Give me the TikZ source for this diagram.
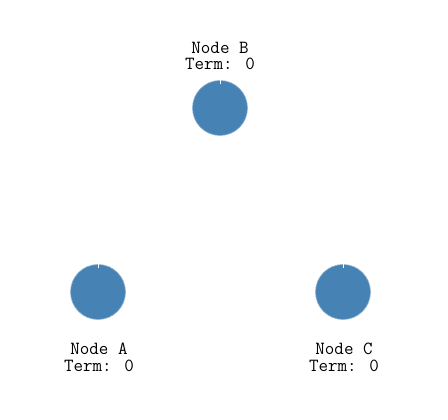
\documentclass[tikz,border=0pt]{standalone}
\usepackage{tikz}
\usetikzlibrary{positioning}
\definecolor{SteelBlue}{RGB}{70,130,180}

\begin{document}
\begin{tikzpicture}[x=1pt, y=1pt,
		vertex/.style={circle, minimum size=55pt, inner sep=0pt, fill=SteelBlue, draw=SteelBlue!60!white, line width=0.6pt},
		tag/.style={align=center, inner sep=0pt, font=\ttfamily\fontsize{18.5}{16.5}\selectfont}]
		\useasboundingbox (0,0) rectangle (448,420);
		\node[vertex] (A) at (98,128) {};
		\node[vertex] (B) at (220,312) {};
		\node[vertex] (C) at (343,128) {};
		% beschriftungen
		\node[tag, above=10pt of B] (Blab) {Node B\\Term: 0};
		\node[tag, below=23pt of A, xshift=1pt] (Alab) {Node A\\Term: 0};
		\node[tag, below=23pt of C, xshift=1pt] (Clab) {Node C\\Term: 0};
		% kleine markierung oben
		\foreach \p in {A,B,C}
		\draw[white, line width=0.9pt] (\p.north) -- ++(0,-4);
	\end{tikzpicture}
\end{document}
